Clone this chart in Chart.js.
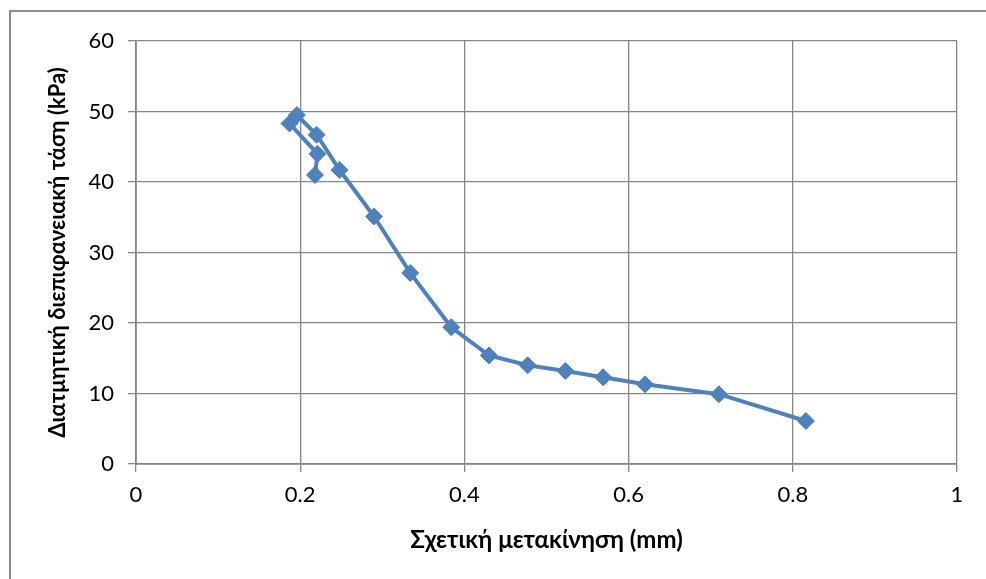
<!DOCTYPE html>
<html>
<head>
<meta charset="utf-8">
<script src="https://cdn.jsdelivr.net/npm/chart.js@4.4.1/dist/chart.umd.min.js"></script>
<style>
    html, body { margin: 0; padding: 0; background: #fff; overflow: hidden; }
    #wrap { position: relative; width: 986px; height: 579px; }
    #frame {
        position: absolute; left: 9px; top: 10px; right: -20px; bottom: -20px;
        border-left: 2px solid #8c8c8c; border-top: 2px solid #8c8c8c;
        pointer-events: none;
    }
</style>
</head>
<body>
<div id="wrap">
    <canvas id="shearChart" width="986" height="579"></canvas>
    <div id="frame"></div>
</div>
<script>
// relative displacement (mm) and interface shear stress (kPa)
const displacement = [0.218, 0.221, 0.187, 0.196, 0.220, 0.248, 0.290, 0.334, 0.384, 0.430, 0.477, 0.523, 0.569, 0.620, 0.710, 0.816];
const shearStress = [41.0, 44.0, 48.3, 49.5, 46.7, 41.7, 35.1, 27.1, 19.4, 15.4, 14.0, 13.2, 12.3, 11.3, 9.9, 6.1];

const xTicks = [0, 0.2, 0.4, 0.6, 0.8, 1];
const yTicks = [0, 10, 20, 30, 40, 50, 60];

const points = displacement.map((x, i) => ({ x, y: shearStress[i] }));

const gridColor = '#878787';
const fontFamily = 'Lato, Carlito, "Liberation Sans", sans-serif';

const ctx = document.getElementById('shearChart').getContext('2d');
new Chart(ctx, {
    type: 'scatter',
    data: {
        datasets: [{
            data: points,
            showLine: true,
            borderColor: '#4f81bd',
            backgroundColor: '#4f81bd',
            borderWidth: 4,
            pointStyle: 'rectRot',
            pointRadius: 8.5,
            pointHoverRadius: 8.5,
            pointBorderWidth: 1,
            tension: 0
        }]
    },
    options: {
        responsive: false,
        animation: false,
        layout: { padding: { left: 0, top: 41, right: 29, bottom: 0 } },
        plugins: {
            legend: { display: false },
            tooltip: { enabled: false }
        },
        scales: {
            x: {
                type: 'linear',
                min: 0,
                max: 1,
                afterBuildTicks: s => { s.ticks = xTicks.map(v => ({ value: v })); },
                afterFit: s => { s.height = 115; },
                grid: { color: gridColor, lineWidth: 1.3, tickLength: 8 },
                border: { color: gridColor, width: 1.8 },
                ticks: {
                    color: '#000',
                    padding: 10,
                    font: { family: fontFamily, size: 22 },
                    callback: v => String(v)
                },
                title: {
                    display: true,
                    text: 'Σχετική μετακίνηση (mm)',
                    color: '#000',
                    font: { family: fontFamily, size: 24, weight: 'bold' },
                    padding: { top: 0, bottom: 24 }
                }
            },
            y: {
                type: 'linear',
                min: 0,
                max: 60,
                afterBuildTicks: s => { s.ticks = yTicks.map(v => ({ value: v })); },
                afterFit: s => { s.width = 136; },
                grid: { color: gridColor, lineWidth: 1.3, tickLength: 8 },
                border: { color: gridColor, width: 1.8 },
                ticks: {
                    color: '#000',
                    padding: 14,
                    font: { family: fontFamily, size: 22 }
                },
                title: {
                    display: true,
                    text: 'Διατμητική διεπιφανειακή τάση (kPa)',
                    color: '#000',
                    font: { family: fontFamily, size: 22, weight: 'bold' },
                    padding: { top: 45, bottom: 0 }
                }
            }
        }
    }
});
</script>
</body>
</html>
